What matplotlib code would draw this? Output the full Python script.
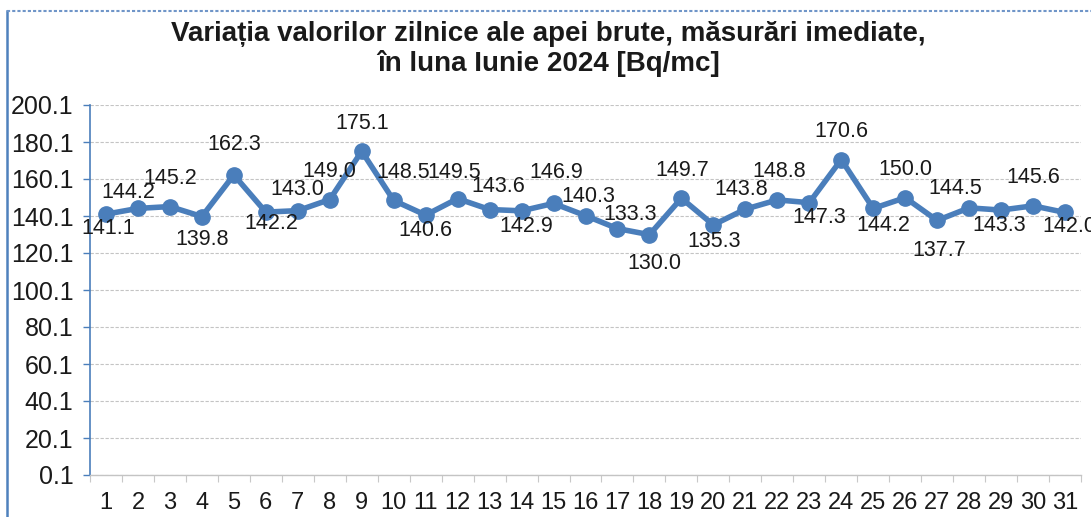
import matplotlib
matplotlib.use("Agg")
import matplotlib.pyplot as plt
from matplotlib.lines import Line2D
import numpy as np

plt.rcParams['font.family'] = ['Liberation Sans', 'DejaVu Sans']

# Daily values for June 2024 [Bq/mc]
days = list(range(1, 32))
values = [141.1, 144.2, 145.2, 139.8, 162.3, 142.2, 143.0, 149.0, 175.1, 148.5,
          140.6, 149.5, 143.6, 142.9, 146.9, 140.3, 133.3, 130.0, 149.7, 135.3,
          143.8, 148.8, 147.3, 170.6, 144.2, 150.0, 137.7, 144.5, 143.3, 145.6,
          142.0]
y_ticks = [0.1, 20.1, 40.1, 60.1, 80.1, 100.1, 120.1, 140.1, 160.1, 180.1, 200.1]
title = "Variația valorilor zilnice ale apei brute, măsurări imediate,\nîn luna Iunie 2024 [Bq/mc]"

# Label placement around each point (pixels: right, down)
label_dx = [2, -10, 0, 0, 0, 5, 0, 0, 0, 9, 0, -3, 9, 5, 3, 3, 13, 5, 1, 1,
            -4, 2, 10, 0, 10, 0, 2, -14, -2, 0, 4]
label_dy = [14, -16, -28, 23, -30, 11, -21, -28, -28, -28, 15, -26, -23, 16, -31,
            -19, -14, 29, -28, 17, -20, -28, 15, -28, 17, -28, 30, -19, 15, -28, 14]

W, H = 1091, 517
fig = plt.figure(figsize=(W / 100, H / 100), dpi=100)
fig.patch.set_facecolor("white")

left, right, top, bottom = 90, 1081, 105, 475
ax = fig.add_axes([left / W, (H - bottom) / H, (right - left) / W, (bottom - top) / H])

line_color = "#4A7EBB"
ax.plot(days, values, color=line_color, lw=4.0, marker="o", ms=11,
        markerfacecolor=line_color, markeredgecolor=line_color, zorder=3,
        solid_joinstyle="round")

for d, v, dx, dy in zip(days, values, label_dx, label_dy):
    ax.annotate(f"{v:.1f}", (d, v), xytext=(dx, -dy), textcoords="offset pixels",
                ha="center", va="center", fontsize=15.5, color="#1a1a1a", zorder=4,
                annotation_clip=False)

ax.set_xlim(0.5, 31.5)
ax.set_ylim(0.1, 200.1)
ax.set_yticks(y_ticks)
ax.set_yticklabels([f"{t:.1f}" for t in y_ticks])
ax.set_xticks(days)
ax.set_xticklabels([str(d) for d in days])
ax.set_xticks(np.arange(0.5, 32, 1), minor=True)

ax.grid(axis="y", color="#c4c4c4", lw=0.8, linestyle=(0, (3, 1.5)))
ax.set_axisbelow(True)

for s in ("top", "right"):
    ax.spines[s].set_visible(False)
ax.spines["left"].set_color(line_color)
ax.spines["left"].set_linewidth(1.2)
ax.spines["bottom"].set_color("#c4c4c4")
ax.spines["bottom"].set_linewidth(1.0)

ax.tick_params(axis="y", length=5, width=1, color=line_color, labelsize=18,
               pad=7, labelcolor="#1a1a1a")
ax.tick_params(axis="x", which="major", length=0, labelsize=17, pad=12,
               labelcolor="#1a1a1a")
ax.tick_params(axis="x", which="minor", length=5, width=0.8, color="#c8c8c8")

fig.text(548 / W, 1 - 49 / H, title, ha="center", va="center", fontsize=20,
         fontweight="bold", color="#1a1a1a", linespacing=1.1)

# Outer chart frame
fig.add_artist(Line2D([7 / W, 7 / W], [1 - 11 / H, 0], color="#4F81BD", lw=1.8))
fig.add_artist(Line2D([7 / W, 1], [1 - 11 / H, 1 - 11 / H], color="#6F95C8",
                      lw=1.5, linestyle=(0, (1.5, 1))))

fig.savefig("out.png", dpi=100)
